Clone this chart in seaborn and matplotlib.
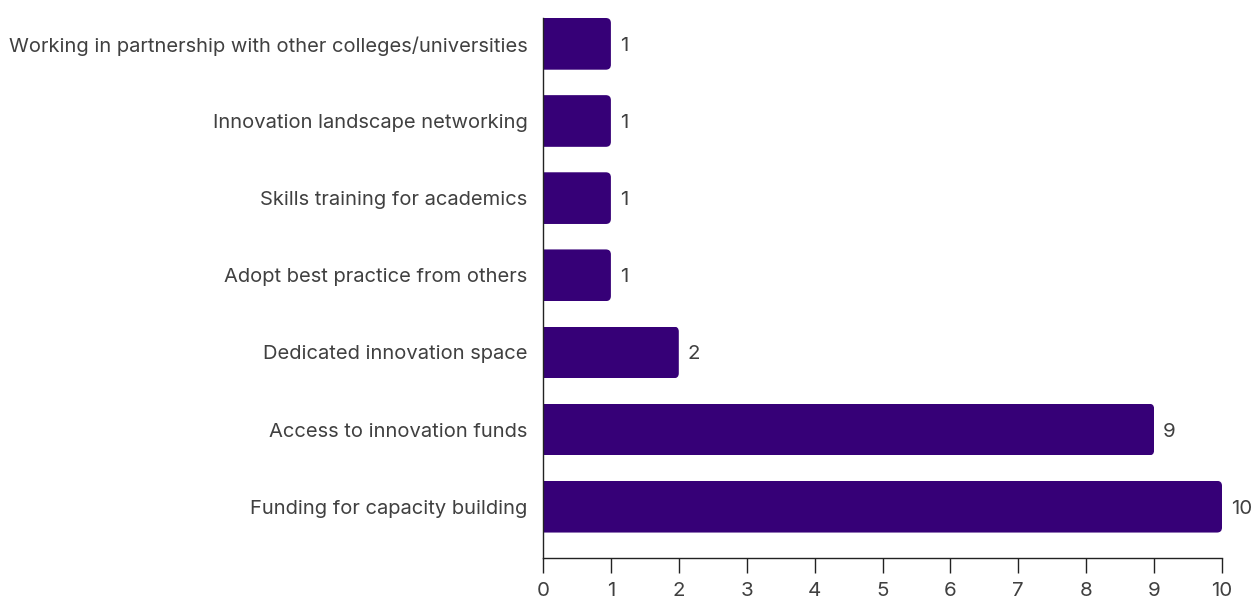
import matplotlib
matplotlib.use("Agg")
import matplotlib.pyplot as plt
from matplotlib.patches import FancyBboxPatch
import seaborn as sns
import pandas as pd

categories = [
    "Working in partnership with other colleges/universities",
    "Innovation landscape networking",
    "Skills training for academics",
    "Adopt best practice from others",
    "Dedicated innovation space",
    "Access to innovation funds",
    "Funding for capacity building",
]
counts = [1, 1, 1, 1, 2, 9, 10]
x_ticks = list(range(0, 11))

BAR_COLOR = "#360077"
TEXT_COLOR = "#404040"
LABEL_SIZE = 14.5
NUM_SIZE = 14.8

sns.set_theme(style="white")
plt.rcParams["font.family"] = ["Inter", "DejaVu Sans"]

df = pd.DataFrame({"category": categories, "count": counts})

fig = plt.figure(figsize=(12.56, 6.01), dpi=100)
ax = fig.add_axes([543 / 1256, 1 - 558 / 601, (1222 - 543) / 1256, (558 - 18) / 601])

sns.barplot(data=df, x="count", y="category", orient="h", color=BAR_COLOR,
            saturation=1, width=0.67, ax=ax)

ax.set_xlim(0, 10)
ax.set_ylim(6.665, -0.335)

# round the right-hand corners of each bar with a clip path in data space
fig.canvas.draw()
px_x = ax.transData.transform((1, 0))[0] - ax.transData.transform((0, 0))[0]
px_y = abs(ax.transData.transform((0, 1))[1] - ax.transData.transform((0, 0))[1])
radius_px = 5
r_x = radius_px / px_x
for bar in ax.patches:
    x0, y0 = bar.get_x(), bar.get_y()
    w, h = bar.get_width(), bar.get_height()
    clip = FancyBboxPatch((x0 - 1, y0), w + 1, h,
                          boxstyle=f"round,pad=0,rounding_size={r_x}",
                          mutation_aspect=px_x / px_y,
                          transform=ax.transData, facecolor="none", edgecolor="none")
    ax.add_patch(clip)
    bar.set_clip_path(clip)
    bar.set_edgecolor("none")

for i, v in enumerate(counts):
    ax.annotate(f"{v}", xy=(v, i), xytext=(6.5, -1.5), textcoords="offset points",
                ha="left", va="center", fontsize=NUM_SIZE, color=TEXT_COLOR)

ax.set_xticks(x_ticks)
ax.set_xlabel("")
ax.set_ylabel("")
ax.tick_params(axis="x", direction="out", length=11, width=1, color="#222222",
               pad=6.5, labelsize=NUM_SIZE, labelcolor=TEXT_COLOR, bottom=True)
ax.tick_params(axis="y", length=0, pad=11, labelsize=LABEL_SIZE, labelcolor=TEXT_COLOR)
for side in ["top", "right"]:
    ax.spines[side].set_visible(False)
for side in ["left", "bottom"]:
    ax.spines[side].set_color("#222222")
    ax.spines[side].set_linewidth(1)
ax.set_facecolor("white")
fig.patch.set_facecolor("white")

fig.savefig("out.png", dpi=100)
